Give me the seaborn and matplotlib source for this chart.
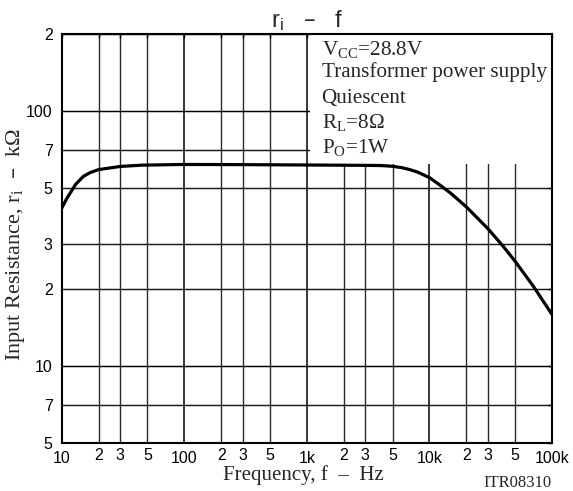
import numpy as np
import pandas as pd
import matplotlib
matplotlib.use("Agg")
import matplotlib.pyplot as plt
import matplotlib.ticker as mticker
from matplotlib.patches import Rectangle
import seaborn as sns

# values
freq = [10, 11, 13, 15, 17, 20, 30, 45, 100, 300, 1000, 3000, 4000, 5000, 6000,
        7000, 8000, 10000, 12000, 15000, 20000, 30000, 40000, 50000, 70000, 100000]
ri = [41.5, 45.3, 51.5, 55.3, 57.2, 58.8, 60.5, 61.2, 61.6, 61.5, 61.3, 61.1, 61.0,
      60.6, 59.8, 58.7, 57.5, 54.7, 51.4, 47.4, 42.0, 34.5, 29.4, 25.7, 20.6, 15.9]

x_major = [10, 100, 1000, 10000, 100000]
x_major_labels = ["10", "100", "1k", "10k", "100k"]
x_minor = [20, 30, 50, 200, 300, 500, 2000, 3000, 5000, 20000, 30000, 50000]
x_minor_labels = ["2", "3", "5"] * 4
y_ticks = [5, 7, 10, 20, 30, 50, 70, 100, 200]
y_labels = ["5", "7", "10", "2", "3", "5", "7", "100", "2"]

conditions = ["V$_\\mathregular{CC}$=28.8V",
              "Transformer power supply",
              "Quiescent",
              "R$_\\mathregular{L}$=8\u03a9",
              "P$_\\mathregular{O}$=1W"]
cond_y = [0.9486, 0.8955, 0.8319, 0.7693, 0.7096]

df = pd.DataFrame({"f": freq, "ri": ri})

sns.set_style("white")
plt.rcParams["font.family"] = ["Liberation Sans", "DejaVu Sans"]
plt.rcParams["mathtext.default"] = "regular"
serif = ["Liberation Serif", "DejaVu Serif"]
narrow = ["Liberation Sans Narrow", "Liberation Sans", "DejaVu Sans"]

fig = plt.figure(figsize=(5.73, 4.91), dpi=100)
ax = fig.add_axes([0.1077, 0.0984, 0.8557, 0.8324])

# grid drawn by hand so the condition box can hide it
for x in x_major:
    ax.axvline(x, color="black", lw=1.1, zorder=0.5)
for x in x_minor:
    ax.axvline(x, color="#2a2a2a", lw=1.0, zorder=0.5)
for y in y_ticks:
    ax.axhline(y, color="black" if y in (10, 100) else "#1a1a1a", lw=1.05, zorder=0.5)

ax.add_patch(Rectangle((0.506, 0.682), 0.494, 0.318, transform=ax.transAxes,
                       facecolor="white", edgecolor="none", zorder=1))

sns.lineplot(data=df, x="f", y="ri", ax=ax, color="black", lw=2.3, zorder=3)

ax.set_xscale("log")
ax.set_yscale("log")
ax.set_xlim(10, 100000)
ax.set_ylim(5, 200)

ax.xaxis.set_major_locator(mticker.FixedLocator(x_major))
ax.xaxis.set_major_formatter(mticker.FixedFormatter(x_major_labels))
ax.xaxis.set_minor_locator(mticker.FixedLocator(x_minor))
ax.xaxis.set_minor_formatter(mticker.FixedFormatter(x_minor_labels))
ax.yaxis.set_major_locator(mticker.FixedLocator(y_ticks))
ax.yaxis.set_major_formatter(mticker.FixedFormatter(y_labels))
ax.yaxis.set_minor_locator(mticker.NullLocator())

ax.tick_params(axis="both", which="both", direction="in", top=True, right=True,
               length=3, width=1, colors="black", labelsize=11.5)
ax.tick_params(axis="x", which="major", pad=6.0)
ax.tick_params(axis="x", which="minor", pad=3.5)
ax.tick_params(axis="y", pad=6.5)
for lab in ax.get_xticklabels(which="both") + ax.get_yticklabels():
    lab.set_family(narrow)

for s in ax.spines.values():
    s.set_color("black")
    s.set_linewidth(1.5)
    s.set_zorder(4)

ax.set_title("r$_\\mathregular{i}$   \u2013   f", fontsize=17, pad=5)
ax.set_xlabel("Frequency, f  \u2013  Hz", family=serif, fontsize=15)
ax.set_ylabel("Input Resistance, r$_\\mathregular{i}$  \u2013  k\u03a9", family=serif, fontsize=16)
ax.xaxis.set_label_coords(0.493, -0.056)
ax.yaxis.set_label_coords(-0.071, 0.484)

for txt, yy in zip(conditions, cond_y):
    ax.text(0.530, yy, txt, transform=ax.transAxes, family=serif, fontsize=15.2,
            va="baseline", ha="left", zorder=2)

fig.text(0.963, 0.0088, "ITR08310", family=serif, fontsize=12, ha="right", va="baseline")

fig.savefig("out.png", dpi=100)
